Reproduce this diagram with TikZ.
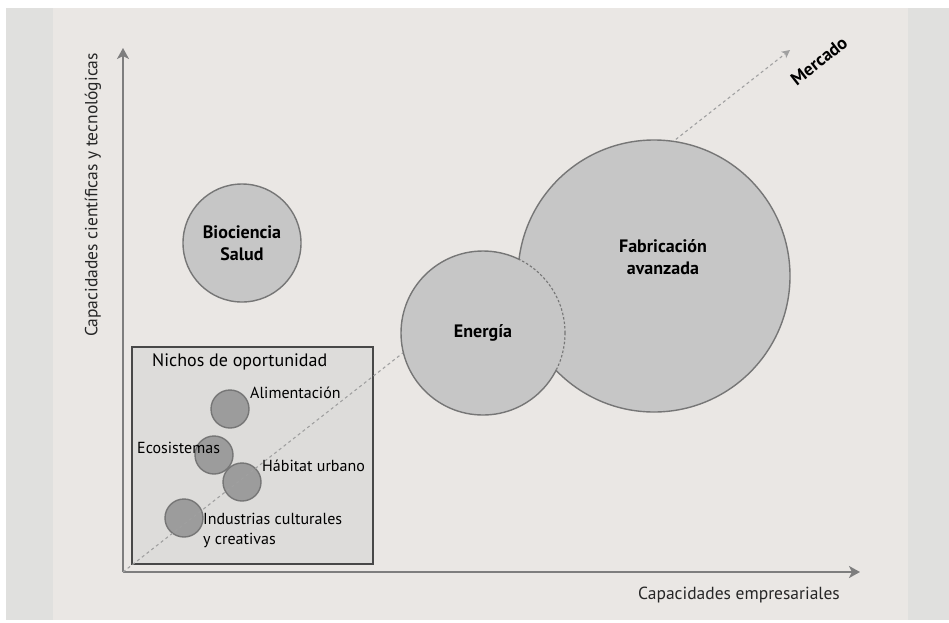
\documentclass[tikz,border=0pt]{standalone}
\usepackage{fontspec}
\setmainfont{PT Sans}
\usetikzlibrary{arrows.meta}
\definecolor{panel}{HTML}{EAE7E4}
\definecolor{band}{HTML}{E0E0DE}
\definecolor{bigfill}{HTML}{C6C6C6}
\definecolor{smallfill}{HTML}{9C9C9C}
\definecolor{edgec}{HTML}{767676}
\definecolor{axisc}{HTML}{7E7E7E}
\definecolor{boxfill}{HTML}{DDDCDA}
\definecolor{boxedge}{HTML}{484848}
\definecolor{dashc}{HTML}{A0A0A0}
\begin{document}
\begin{tikzpicture}[x=1pt,y=-1pt,
  bigc/.style={circle, fill=bigfill, draw=edgec, line width=1.4pt, inner sep=0pt},
  smallc/.style={circle, fill=smallfill, draw=edgec, line width=1.4pt, inner sep=0pt, minimum size=38pt},
  biglabel/.style={font=\fontsize{18}{22}\selectfont\bfseries, align=center, text=black},
  smalllabel/.style={font=\fontsize{16}{20}\selectfont, text=black, anchor=west, inner sep=0pt},
  axislabel/.style={font=\fontsize{17.5}{21}\selectfont, text=black!85},
  axisline/.style={draw=axisc, line width=2.4pt, -{Stealth[length=11pt,width=12pt,inset=3pt]}},
  diagline/.style={draw=dashc, line width=1.1pt, dash pattern=on 3pt off 3pt, -{Stealth[length=8pt,width=8pt,inset=2pt]}}
]
\useasboundingbox (0,0) rectangle (949,622);
\fill[white] (0,0) rectangle (949,622);
\fill[band] (6,8) rectangle (949,620);
\fill[panel] (53,8) rectangle (908,620);

% Nichos box
\node[draw=boxedge, line width=1.8pt, fill=boxfill, minimum width=241pt, minimum height=217pt, anchor=north west, inner sep=0pt] (box) at (131,346) {};
\node[font=\fontsize{18}{22}\selectfont, anchor=west, inner sep=0pt] (boxtitle) at (152,362) {Nichos de oportunidad};

\node[smallc] (ali) at (230,409) {};
\node[smallc] (eco) at (214,455) {};
\node[smallc] (hab) at (242,482) {};
\node[smallc] (ind) at (184,518) {};

% axes
\coordinate (O) at (123,572);
\coordinate (ytip) at (123,48);
\coordinate (xtip) at (860,572);
\coordinate (mtip) at (790,50);
\draw[axisline] (O) -- (ytip);
\draw[axisline] (O) -- (xtip);
\draw[diagline] (O) -- (mtip);

\node[small label/.style={}, smalllabel] (alil) at (250,393) {Alimentación};
\node[smalllabel] (ecol) at (137,448) {Ecosistemas};
\node[smalllabel] (habl) at (262,466) {Hábitat urbano};
\node[smalllabel, align=left] (indl) at (203,530) {Industrias culturales\\y creativas};

% big circles
\node[bigc, minimum size=118pt] (bio) at (242,243) {};
\node[bigc, minimum size=272pt] (fab) at (654,276) {};
\node[bigc, minimum size=164pt] (ene) at (483,333) {};
\begin{scope}
  \clip (fab.center) circle [radius=135pt];
  \fill[bigfill] (ene.center) circle [radius=83.2pt];
  \draw[edgec, line width=1.1pt, dash pattern=on 2.5pt off 2pt] (ene.center) circle [radius=82pt];
\end{scope}

\node[biglabel] at (bio.center) {Biociencia\\Salud};
\node[biglabel] at (ene.center) {Energía};
\node[biglabel] at (663,257) {Fabricación\\avanzada};
\node[biglabel, rotate=38, font=\fontsize{18}{22}\selectfont\bfseries] (merc) at (819,61) {Mercado};

\node[axislabel, rotate=90] (ylab) at (93,195) {Capacidades científicas y tecnológicas};
\node[axislabel] (xlab) at (739,595) {Capacidades empresariales};
\end{tikzpicture}
\end{document}
